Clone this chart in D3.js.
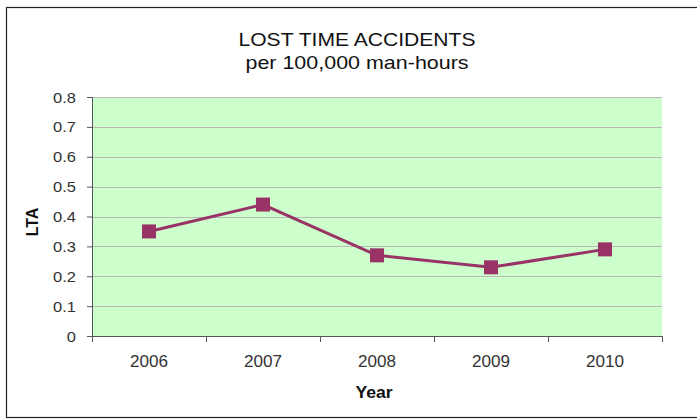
<!DOCTYPE html>
<html>
<head>
<meta charset="utf-8">
<script src="https://cdn.jsdelivr.net/npm/d3@7"></script>
<style>
  body { margin: 0; background: #fff; }
  svg { font-family: "Liberation Sans", Arial, sans-serif; }
</style>
</head>
<body>
<script>
// lost time accidents per year
var years = ["2006", "2007", "2008", "2009", "2010"];
var lta = [0.35, 0.44, 0.27, 0.23, 0.29];
var yTicks = [0, 0.1, 0.2, 0.3, 0.4, 0.5, 0.6, 0.7, 0.8];

var W = 697, H = 420;
var plot = {left: 92, right: 662, top: 97, bottom: 336};

var svg = d3.select("body").append("svg")
  .attr("width", W)
  .attr("height", H);

// the original picture is a bit wider than normal text, so stretch it
var label = function(g, x, y, txt, size, sx, anchor, bold){
  return g.append("text")
    .attr("transform", "translate(" + x + "," + y + ") scale(" + sx + ",1)")
    .attr("text-anchor", anchor || "middle")
    .style("font-size", size + "px")
    .style("font-weight", bold ? "bold" : "normal")
    .attr("fill", "#111")
    .text(txt);
};

// chart frame
svg.append("rect")
  .attr("x", 6.5).attr("y", 7.5)
  .attr("width", W + 10).attr("height", 410)
  .attr("fill", "#fff")
  .attr("stroke", "#222")
  .attr("stroke-width", 1.2);

var x = d3.scaleBand().domain(years).range([plot.left, plot.right]);
var y = d3.scaleLinear().domain([0, 0.8]).range([plot.bottom, plot.top]);

svg.append("rect")
  .attr("x", plot.left).attr("y", plot.top)
  .attr("width", plot.right - plot.left)
  .attr("height", plot.bottom - plot.top)
  .attr("fill", "#ccffcc");

// gridlines
svg.append("g").selectAll("line")
  .data(yTicks.slice(1))
  .enter().append("line")
  .attr("x1", plot.left).attr("x2", plot.right)
  .attr("y1", function(d){ return Math.round(y(d)) + 0.5; })
  .attr("y2", function(d){ return Math.round(y(d)) + 0.5; })
  .attr("stroke", "#b8b8b8")
  .attr("stroke-width", 1);

// y axis
var yAxis = svg.append("g")
  .attr("transform", "translate(" + plot.left + ",0)")
  .call(d3.axisLeft(y).tickValues(yTicks).tickSize(5).tickFormat(""));
yAxis.select(".domain").attr("stroke", "#555");
yAxis.selectAll(".tick line").attr("stroke", "#555");
yAxis.selectAll(".tick").each(function(d){
  label(d3.select(this), -16, 5, d === 0 ? "0" : d3.format(".1f")(d), 15, 1.1, "end")
    .attr("fill", "#333");
});

// x axis - ticks at band edges
var xAxis = svg.append("g")
  .attr("transform", "translate(0," + plot.bottom + ")");
xAxis.append("line")
  .attr("x1", plot.left).attr("x2", plot.right)
  .attr("y1", 0.5).attr("y2", 0.5)
  .attr("stroke", "#555");
var edges = years.map(function(d){ return x(d); }).concat([plot.right]);
xAxis.selectAll(".edge")
  .data(edges)
  .enter().append("line")
  .attr("class", "edge")
  .attr("x1", function(d){ return d + 0.5; })
  .attr("x2", function(d){ return d + 0.5; })
  .attr("y1", 0).attr("y2", 6)
  .attr("stroke", "#555");
years.forEach(function(d){
  label(xAxis, x(d) + x.bandwidth() / 2, 31, d, 16, 1.07).attr("fill", "#333");
});

// line + markers
var line = d3.line()
  .x(function(d, i){ return x(years[i]) + x.bandwidth() / 2; })
  .y(function(d){ return y(d); });

svg.append("path")
  .datum(lta)
  .attr("d", line)
  .attr("fill", "none")
  .attr("stroke", "#993366")
  .attr("stroke-width", 3);

svg.selectAll(".pt")
  .data(lta)
  .enter().append("rect")
  .attr("class", "pt")
  .attr("x", function(d, i){ return x(years[i]) + x.bandwidth() / 2 - 7; })
  .attr("y", function(d){ return y(d) - 7; })
  .attr("width", 14).attr("height", 14)
  .attr("fill", "#993366");

// titles
label(svg, 357, 46, "LOST TIME ACCIDENTS", 19, 1.11);
label(svg, 357, 69, "per 100,000 man-hours", 19, 1.13);

label(svg, 374, 398, "Year", 16, 1.1, "middle", true);

svg.append("text")
  .attr("transform", "translate(38,222) rotate(-90)")
  .attr("text-anchor", "middle")
  .style("font-size", "16px")
  .style("font-weight", "bold")
  .attr("fill", "#111")
  .text("LTA");
</script>
</body>
</html>
